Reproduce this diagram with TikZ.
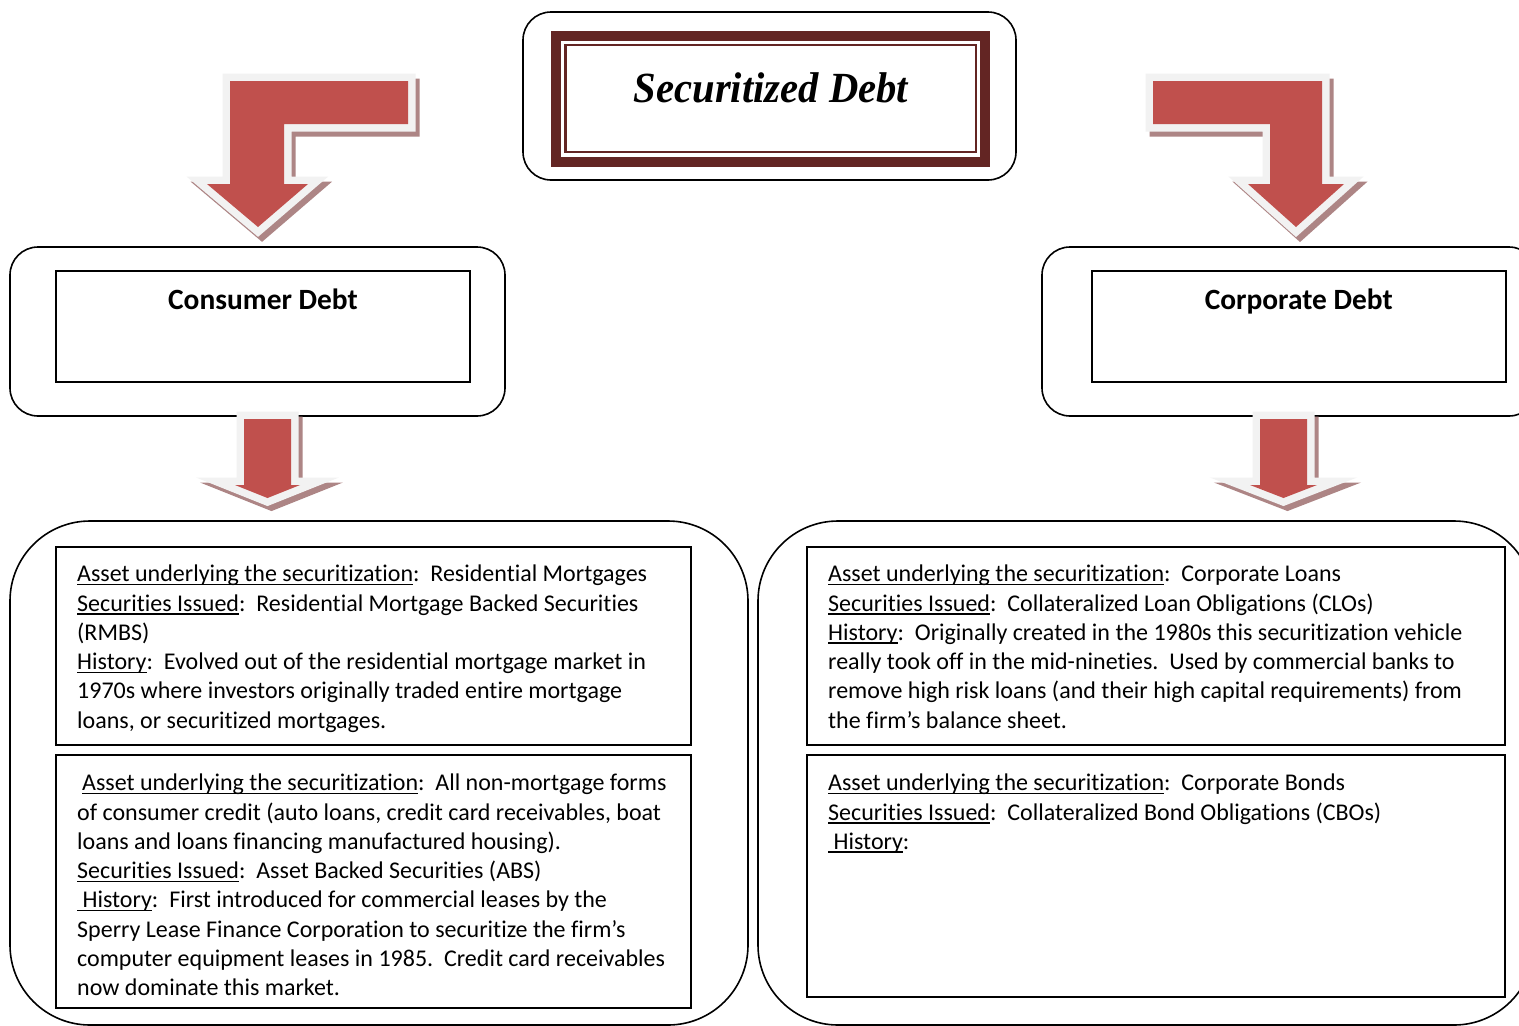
\documentclass[tikz,border=0pt]{standalone}
\usepackage{fontspec}
\setmainfont{Carlito}[Ligatures={NoCommon}]
\newfontfamily\titlefont{Liberation Serif}
\definecolor{arrowred}{HTML}{C0504D}
\definecolor{arrowborder}{HTML}{F2F2F2}
\definecolor{shadowcol}{HTML}{AD8585}
\definecolor{framecol}{HTML}{632523}
\newcommand\undl[1]{\setbox0\hbox{#1}\rlap{\rule[-3.5pt]{\wd0}{1.6pt}}\box0}
\newcommand\blockarrow[1]{%
  \path[arrowshadow] #1;
  \path[arrowrim] #1;
  \path[fill=arrowred] #1;}
\frenchspacing
\begin{document}
\begin{tikzpicture}[x=1pt,y=-1pt,
  arrowshadow/.style={shift={(4,5)},draw=shadowcol,fill=shadowcol,line width=15,line join=miter},
  arrowrim/.style={draw=arrowborder,fill=arrowborder,line width=15,line join=miter},
  roundbox/.style={draw,line width=1.6,rectangle,inner sep=0},
  squarebox/.style={draw,line width=2,rectangle,inner sep=0},
  headtext/.style={font=\bfseries\fontsize{29.4}{35}\selectfont,inner sep=0,anchor=base},
  bodytext/.style={font=\fontsize{24}{29.3}\selectfont,align=left,inner sep=0,anchor=north west}]
\useasboundingbox (0,0) rectangle (1519,1026);
\clip (0,0) rectangle (1519,1026);
\fill[white] (0,0) rectangle (1519,1026);

% title
\node[roundbox,rounded corners=28,minimum width=493,minimum height=168] (titleouter) at (769.5,96) {};
\node[draw=framecol,line width=10,inner sep=0,minimum width=429,minimum height=125.5] (titleframe) at (770.5,98.75) {};
\node[draw=framecol,line width=2.7,inner sep=0,minimum width=410.5,minimum height=107] (titleline) at (770.75,98.5) {};
\node[font=\titlefont\bfseries\itshape\fontsize{43}{50}\selectfont,inner sep=0,anchor=base,xscale=0.945] (title) at (771,102.5) {Securitized Debt};

% consumer / corporate headers
\node[roundbox,rounded corners=28,minimum width=495,minimum height=169] (consouter) at (257.5,331.5) {};
\node[squarebox,minimum width=414,minimum height=110.5] (consinner) at (263,326.25) {};
\node[headtext] (conslabel) at (263,309) {Consumer Debt};

\node[roundbox,rounded corners=28,minimum width=495,minimum height=169] (corpouter) at (1289.5,331.5) {};
\node[squarebox,minimum width=413.5,minimum height=110.5] (corpinner) at (1298.75,326.25) {};
\node[headtext] (corplabel) at (1298.75,309) {Corporate Debt};

% big boxes
\node[roundbox,rounded corners=80,minimum width=738,minimum height=504] (leftbig) at (379,773) {};
\node[roundbox,rounded corners=80,minimum width=776,minimum height=504] (rightbig) at (1146,773) {};

\node[squarebox,minimum width=635,minimum height=198] (lt) at (373.5,646) {};
\node[squarebox,minimum width=635,minimum height=253] (lb) at (373.5,881.5) {};
\node[squarebox,minimum width=698,minimum height=198] (rt) at (1156,646) {};
\node[squarebox,minimum width=698,minimum height=242] (rb) at (1156,876) {};

\node[bodytext] (lttext) at (77,561.5) {\rule{0pt}{20pt}\undl{Asset underlying the securitization}:~ Residential Mortgages\\
\undl{Securities Issued}:~ Residential Mortgage Backed Securities\\
(RMBS)\\
\undl{History}:~ Evolved out of the residential mortgage market in\\
1970s where investors originally traded entire mortgage\\
loans, or securitized mortgages.};

\node[bodytext] (lbtext) at (77,770.5) {\rule{0pt}{20pt}\hspace{5pt}\undl{Asset underlying the securitization}:~ All non-mortgage forms\\
of consumer credit (auto loans, credit card receivables, boat\\
loans and loans financing manufactured housing).\\
\undl{Securities Issued}:~ Asset Backed Securities (ABS)\\
\undl{\ History}:~ First introduced for commercial leases by the\\
Sperry Lease Finance Corporation to securitize the firm’s\\
computer equipment leases in 1985.~ Credit card receivables\\
now dominate this market.};

\node[bodytext] (rttext) at (828,561.5) {\rule{0pt}{20pt}\undl{Asset underlying the securitization}:~ Corporate Loans\\
\undl{Securities Issued}:~ Collateralized Loan Obligations (CLOs)\\
\undl{History}:~ Originally created in the 1980s this securitization vehicle\\
really took off in the mid-nineties.~ Used by commercial banks to\\
remove high risk loans (and their high capital requirements) from\\
the firm’s balance sheet.};

\node[bodytext] (rbtext) at (828,770.5) {\rule{0pt}{20pt}\undl{Asset underlying the securitization}:~ Corporate Bonds\\
\undl{Securities Issued}:~ Collateralized Bond Obligations (CBOs)\\
\undl{\ History}:};

% block arrows
\blockarrow{(230,81) -- (408,81) -- (408,124) -- (284,124) -- (284,184) -- (308,184) -- (258,227) -- (207,184) -- (230,184) -- cycle}
\blockarrow{(1153,81) -- (1322,81) -- (1322,184) -- (1344,184) -- (1296,227) -- (1248,184) -- (1270,184) -- (1270,124) -- (1153,124) -- cycle}
\blockarrow{(244,419) -- (291,419) -- (291,485) -- (300,485) -- (267.5,498) -- (235,485) -- (244,485) -- cycle}
\blockarrow{(1260,419) -- (1307,419) -- (1307,485) -- (1317,485) -- (1283.5,498) -- (1250,485) -- (1260,485) -- cycle}
\end{tikzpicture}
\end{document}
